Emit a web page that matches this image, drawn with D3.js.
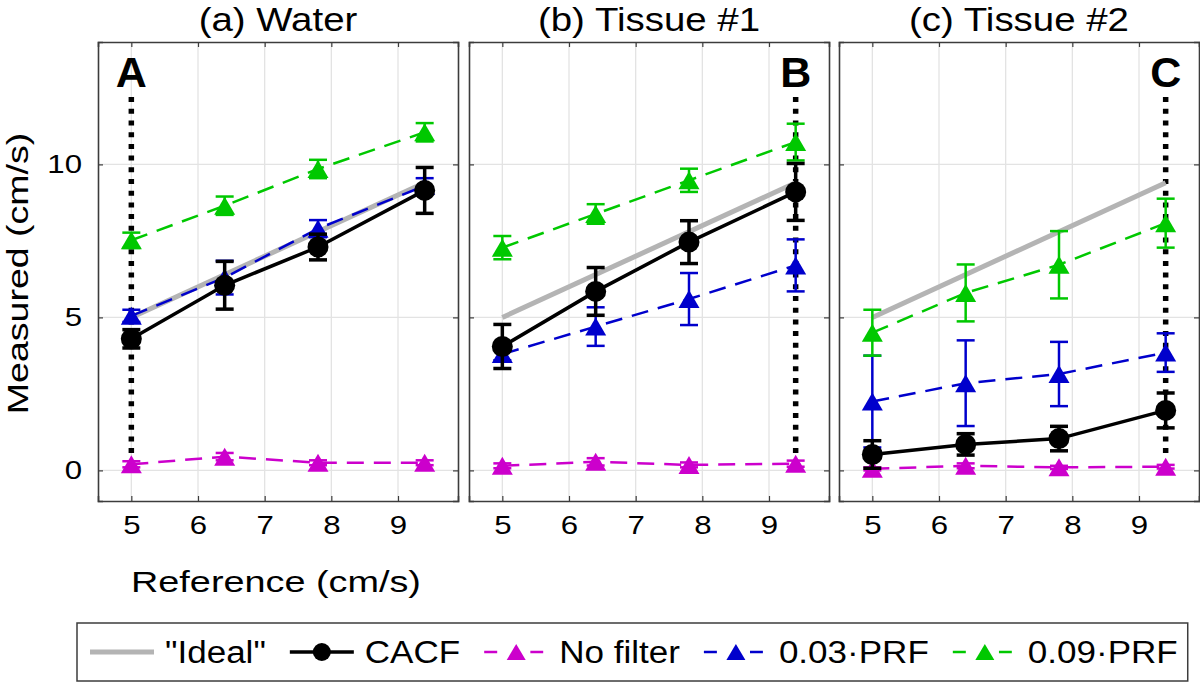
<!DOCTYPE html>
<html>
<head>
<meta charset="utf-8">
<script src="https://cdn.jsdelivr.net/npm/d3@7"></script>
<style>
  html, body { margin: 0; padding: 0; background: #fff; }
  svg { display: block; font-family: "Liberation Sans", Arial, Helvetica, sans-serif; }
</style>
</head>
<body>
<svg id="chart" width="1200" height="683"></svg>
<script>
// ---------- data ----------
const panelTitles = ["(a) Water", "(b) Tissue #1", "(c) Tissue #2"];
const panelLetters = ["A", "B", "C"];
const letterX = [5, 9.4, 9.4];
const refX = [5, 6.4, 7.8, 9.4];
const idealX = [5, 9.4];
const xTicks = [5, 6, 7, 8, 9];
const yTicks = [0, 5, 10];

// CACF (mean, error) per panel
const cacfMean = [[4.3, 6.05, 7.3, 9.15], [4.05, 5.85, 7.46, 9.1], [0.52, 0.85, 1.04, 1.96]];
const cacfErr  = [[0.3, 0.78, 0.42, 0.75], [0.72, 0.78, 0.7, 0.93], [0.45, 0.35, 0.4, 0.57]];
// No filter
const noFiltMean = [[0.2, 0.45, 0.25, 0.25], [0.15, 0.28, 0.18, 0.22], [0.05, 0.15, 0.1, 0.12]];
const noFiltErr  = [[0.1, 0.12, 0.08, 0.08], [0.08, 0.12, 0.08, 0.1], [0.05, 0.08, 0.05, 0.06]];
// 0.03·PRF
const prf03Mean = [[5.05, 6.3, 7.9, 9.3], [3.8, 4.7, 5.6, 6.7], [2.25, 2.85, 3.15, 3.85]];
const prf03Err  = [[0.2, 0.55, 0.28, 0.25], [0.2, 0.63, 0.85, 0.85], [1.5, 1.4, 1.05, 0.63]];
// 0.09·PRF
const prf09Mean = [[7.52, 8.65, 9.85, 11.05], [7.28, 8.38, 9.48, 10.73], [4.5, 5.8, 6.72, 8.08]];
const prf09Err  = [[0.25, 0.3, 0.3, 0.3], [0.38, 0.32, 0.38, 0.6], [0.75, 0.93, 1.1, 0.8]];

const legendLabels = ["\"Ideal\"", "CACF", "No filter", "0.03\u00B7PRF", "0.09\u00B7PRF"];

// ---------- styles ----------
const C = { ideal: "#b4b4b4", cacf: "#000000", nf: "#cc00cc", p03: "#0000cc", p09: "#00c800", axis: "#3c3c3c", grid: "#e3e3e3" };

const svg = d3.select("#chart");

function stretch(sel, k) {
  sel.each(function () {
    const len = this.getComputedTextLength();
    d3.select(this).attr("textLength", len * k).attr("lengthAdjust", "spacingAndGlyphs");
  });
  return sel;
}

const panelLeft = [98, 469, 839];
const pw = 360, plotTop = 42, plotBot = 501;

const y = d3.scaleLinear().domain([-1, 14]).range([plotBot, plotTop]);

const triPath = (w, h) => `M0,${-h / 2}L${w / 2},${h / 2}L${-w / 2},${h / 2}Z`;

const seriesDefs = [
  { key: "nf", mean: noFiltMean, err: noFiltErr, color: C.nf, dash: "17,10", lw: 2.5, marker: "tri", ew: 2.5 },
  { key: "p03", mean: prf03Mean, err: prf03Err, color: C.p03, dash: "17,10", lw: 2.5, marker: "tri", ew: 2.5 },
  { key: "p09", mean: prf09Mean, err: prf09Err, color: C.p09, dash: "17,10", lw: 2.5, marker: "tri", ew: 2.5 },
  { key: "cacf", mean: cacfMean, err: cacfErr, color: C.cacf, dash: null, lw: 3.5, marker: "circle", ew: 3.5 }
];

panelTitles.forEach((title, p) => {
  const x = d3.scaleLinear().domain([4.5, 9.9]).range([panelLeft[p], panelLeft[p] + pw]);
  const g = svg.append("g");

  // grid
  g.selectAll(".gx").data(xTicks).enter().append("line")
    .attr("x1", d => x(d)).attr("x2", d => x(d)).attr("y1", plotTop).attr("y2", plotBot)
    .attr("stroke", C.grid).attr("stroke-width", 1.3);
  g.selectAll(".gy").data(yTicks).enter().append("line")
    .attr("x1", x.range()[0]).attr("x2", x.range()[1]).attr("y1", d => y(d)).attr("y2", d => y(d))
    .attr("stroke", C.grid).attr("stroke-width", 1.3);

  // axes with inward ticks on all sides
  const axB = d3.axisBottom(x).tickValues(xTicks).tickSize(-5).tickPadding(15).tickFormat(d3.format("d"));
  const axT = d3.axisTop(x).tickValues(xTicks).tickSize(-5).tickFormat("");
  const axL = d3.axisLeft(y).tickValues(yTicks).tickSize(-5).tickPadding(16).tickFormat(p === 0 ? d3.format("d") : "");
  const axR = d3.axisRight(y).tickValues(yTicks).tickSize(-5).tickFormat("");

  const gB = g.append("g").attr("transform", `translate(0,${plotBot})`).call(axB);
  const gT = g.append("g").attr("transform", `translate(0,${plotTop})`).call(axT);
  const gL = g.append("g").attr("transform", `translate(${x.range()[0]},0)`).call(axL);
  const gR = g.append("g").attr("transform", `translate(${x.range()[1]},0)`).call(axR);
  [gB, gT, gL, gR].forEach(a => {
    a.select(".domain").attr("stroke", C.axis).attr("stroke-width", 1.6);
    a.selectAll(".tick line").attr("stroke", C.axis).attr("stroke-width", 1.2);
  });
  gB.selectAll(".tick text").attr("font-size", 26).attr("fill", "#000")
    .attr("font-family", "Liberation Sans, Arial, sans-serif").attr("dy", "0.71em");
  stretch(gB.selectAll(".tick text"), 1.2);
  gL.selectAll(".tick text").attr("font-size", 26).attr("fill", "#000")
    .attr("font-family", "Liberation Sans, Arial, sans-serif");
  stretch(gL.selectAll(".tick text"), 1.2);

  // title
  const t = g.append("text").attr("x", x.range()[0] + pw / 2).attr("y", 31)
    .attr("text-anchor", "middle").attr("font-size", 34).attr("fill", "#000").text(title);
  stretch(t, 1.13);

  // dotted marker line
  g.append("line")
    .attr("x1", x(letterX[p])).attr("x2", x(letterX[p]))
    .attr("y1", y(12.2)).attr("y2", y(0.45))
    .attr("stroke", "#000").attr("stroke-width", 5.5).attr("stroke-dasharray", "5,6.7");
  g.append("text").attr("x", x(letterX[p])).attr("y", 87)
    .attr("text-anchor", "middle").attr("font-size", 43).attr("font-weight", "bold").attr("fill", "#000")
    .text(panelLetters[p]);

  // ideal line
  g.append("path").datum(idealX)
    .attr("d", d3.line().x(d => x(d)).y(d => y(d)))
    .attr("stroke", C.ideal).attr("stroke-width", 5).attr("fill", "none");

  // series
  seriesDefs.forEach(s => {
    const pts = refX.map((xv, i) => ({ x: xv, m: s.mean[p][i], e: s.err[p][i] }));
    const sg = g.append("g");
    sg.append("path").datum(pts)
      .attr("d", d3.line().x(d => x(d.x)).y(d => y(d.m)))
      .attr("stroke", s.color).attr("stroke-width", s.lw).attr("fill", "none")
      .attr("stroke-dasharray", s.dash);
    const eb = sg.selectAll(".eb").data(pts).enter().append("g");
    eb.append("line").attr("x1", d => x(d.x)).attr("x2", d => x(d.x))
      .attr("y1", d => y(d.m - d.e)).attr("y2", d => y(d.m + d.e))
      .attr("stroke", s.color).attr("stroke-width", s.ew);
    [-1, 1].forEach(sgn => {
      eb.append("line").attr("x1", d => x(d.x) - 9).attr("x2", d => x(d.x) + 9)
        .attr("y1", d => y(d.m + sgn * d.e)).attr("y2", d => y(d.m + sgn * d.e))
        .attr("stroke", s.color).attr("stroke-width", s.ew);
    });
    if (s.marker === "circle") {
      sg.selectAll(".mk").data(pts).enter().append("circle")
        .attr("cx", d => x(d.x)).attr("cy", d => y(d.m)).attr("r", 10.5).attr("fill", s.color);
    } else {
      sg.selectAll(".mk").data(pts).enter().append("path")
        .attr("transform", d => `translate(${x(d.x)},${y(d.m)})`)
        .attr("d", triPath(21, 18)).attr("fill", s.color);
    }
  });

  if (p === 0) {
    const xl = g.append("text").attr("x", x.range()[0] + pw / 2 - 2).attr("y", 592)
      .attr("text-anchor", "middle").attr("font-size", 30).attr("fill", "#000").text("Reference (cm/s)");
    stretch(xl, 1.26);
  }
});

// y label
const yl = svg.append("text").attr("transform", `translate(28,${(plotTop + plotBot) / 2 + 2})rotate(-90)`)
  .attr("text-anchor", "middle").attr("font-size", 30).attr("fill", "#000").text("Measured (cm/s)");
stretch(yl, 1.25);

// ---------- legend ----------
const lg = svg.append("g");
const legTop = 623, legBot = 681, legMid = (legTop + legBot) / 2;
const legStyles = [
  { color: C.ideal, lw: 5, dash: null, marker: null },
  { color: C.cacf, lw: 3.5, dash: null, marker: "circle" },
  { color: C.nf, lw: 2.5, dash: "13,10", marker: "tri" },
  { color: C.p03, lw: 2.5, dash: "13,10", marker: "tri" },
  { color: C.p09, lw: 2.5, dash: "13,10", marker: "tri" }
];
const legBox = lg.append("rect").attr("y", legTop).attr("height", legBot - legTop)
  .attr("fill", "#fff").attr("stroke", C.axis).attr("stroke-width", 1.5);
let cx = 90;
const sampleW = 64;
legendLabels.forEach((lab, i) => {
  const st = legStyles[i];
  lg.append("line").attr("x1", cx).attr("x2", cx + sampleW).attr("y1", legMid).attr("y2", legMid)
    .attr("stroke", st.color).attr("stroke-width", st.lw).attr("stroke-dasharray", st.dash);
  if (st.marker === "circle") {
    lg.append("circle").attr("cx", cx + sampleW / 2).attr("cy", legMid).attr("r", 9).attr("fill", st.color);
  } else if (st.marker === "tri") {
    lg.append("rect").attr("x", cx + sampleW / 2 - 14).attr("y", legMid - 10).attr("width", 28).attr("height", 20).attr("fill", "#fff");
    lg.append("path").attr("transform", `translate(${cx + sampleW / 2},${legMid})`)
      .attr("d", triPath(19, 16)).attr("fill", st.color);
  }
  const tx = lg.append("text").attr("x", cx + sampleW + 11).attr("y", legMid + 11)
    .attr("font-size", 31).attr("fill", "#000").text(lab);
  stretch(tx, 1.13);
  cx = cx + sampleW + 11 + (+tx.attr("textLength")) + 24;
});
legBox.attr("x", 77).attr("width", cx - 24 + 10 - 77);
</script>
</body>
</html>
